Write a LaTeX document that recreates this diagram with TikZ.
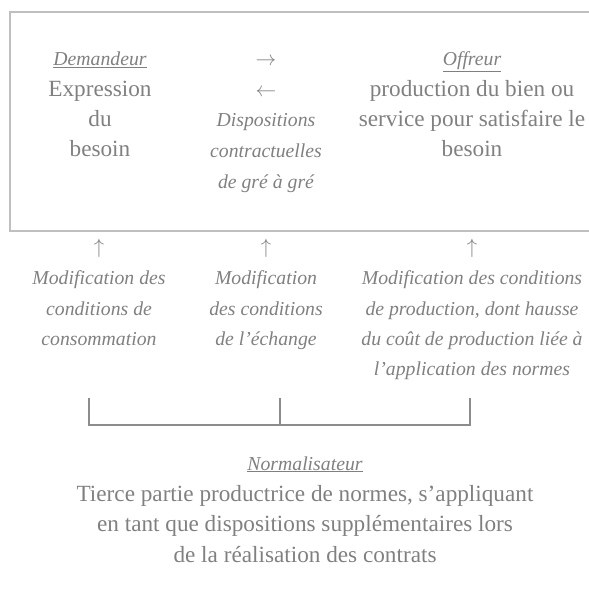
\documentclass[tikz,border=0pt]{standalone}
\usepackage{fontspec}
\setmainfont{Liberation Serif}
\definecolor{tgray}{HTML}{808080}
\definecolor{bgray}{HTML}{BFBFBF}
\definecolor{lgray}{HTML}{8C8C8C}
\begin{document}
\begin{tikzpicture}[x=1bp,y=-1bp,
  txt/.style={anchor=base, inner sep=0pt, text=tgray, font=\fontsize{23.3}{28}\selectfont},
  itx/.style={anchor=base, inner sep=0pt, text=tgray, font=\fontsize{19.8}{24}\selectfont\itshape},
  arr/.style={anchor=base, inner sep=0pt, text=tgray, font=\fontsize{22}{26}\selectfont},
  frame/.style={draw=bgray, line width=1.8bp},
  brk/.style={draw=lgray, line width=1.3bp}]
\useasboundingbox (0,0) rectangle (589,596);
% frame (right side runs past the picture)
\coordinate (fTR) at (589,12);
\coordinate (fTL) at (10,12);
\coordinate (fBL) at (10,231);
\coordinate (fBR) at (589,231);
\draw[frame] (fTR) -- (fTL) -- (fBL) -- (fBR);
% column 1 in the frame
\node[itx] (dem) at (100,66) {\underline{Demandeur}};
\node[txt] (dem1) at (100,97) {Expression};
\node[txt] (dem2) at (100,127) {du};
\node[txt] (dem3) at (100,157) {besoin};
% column 2 in the frame
\node[arr] (ra) at (266,66) {$\rightarrow$};
\node[arr] (la) at (266,97) {$\leftarrow$};
\node[itx] (dis1) at (266,127) {Dispositions};
\node[itx] (dis2) at (266,158) {contractuelles};
\node[itx] (dis3) at (266,188) {de gré à gré};
% column 3 in the frame
\node[itx] (off) at (472,66) {\underline{Offreur}};
\node[txt] (off1) at (472,97) {production du bien ou};
\node[txt] (off2) at (472,127) {service pour satisfaire le};
\node[txt] (off3) at (472,157) {besoin};
% up arrows
\node[arr] (ua1) at (99,253) {$\uparrow$};
\node[arr] (ua2) at (266,253) {$\uparrow$};
\node[arr] (ua3) at (472,253) {$\uparrow$};
% lower columns
\node[itx] (m11) at (99,284) {Modification des};
\node[itx] (m12) at (99,315) {conditions de};
\node[itx] (m13) at (99,345) {consommation};
\node[itx] (m21) at (266,284) {Modification};
\node[itx] (m22) at (266,315) {des conditions};
\node[itx] (m23) at (266,345) {de l’échange};
\node[itx] (m31) at (472,284) {Modification des conditions};
\node[itx] (m32) at (472,315) {de production, dont hausse};
\node[itx] (m33) at (472,345) {du coût de production liée à};
\node[itx] (m34) at (472,375) {l’application des normes};
% bracket
\coordinate (k1) at (89,398);
\coordinate (k1b) at (89,425);
\coordinate (k2) at (280,398);
\coordinate (k2b) at (280,425);
\coordinate (k3) at (470,398);
\coordinate (k3b) at (470,425);
\draw[brk] (k1) -- (k1b) -- (k3b) -- (k3);
\draw[brk] (k2) -- (k2b);
% normalisateur
\node[itx] (nor) at (305,470) {\underline{Normalisateur}};
\node[txt] (nor1) at (305,501) {Tierce partie productrice de normes, s’appliquant};
\node[txt] (nor2) at (305,531) {en tant que dispositions supplémentaires lors};
\node[txt] (nor3) at (305,562) {de la réalisation des contrats};
\end{tikzpicture}
\end{document}
